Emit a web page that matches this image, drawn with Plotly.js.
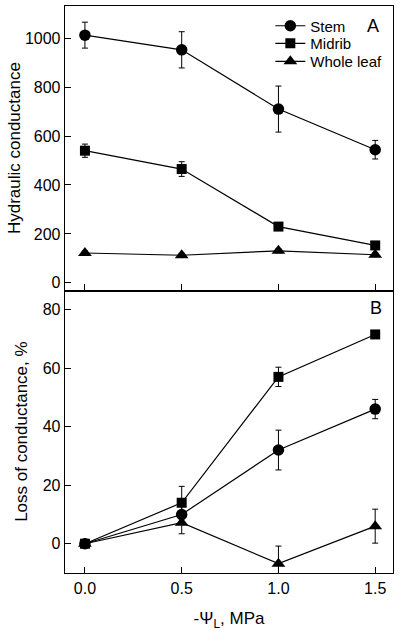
<!DOCTYPE html>
<html>
<head>
<meta charset="utf-8">
<script src="https://cdn.plot.ly/plotly-3.0.1.min.js"></script>
<style>html,body{margin:0;padding:0;background:#fff;}#chart{width:400px;height:631px;}</style>
</head>
<body>
<div id="chart"></div>
<script>
// Water potential (x)
var psi = [0, 0.5, 1.0, 1.5];
var psiLabels = ['0.0', '0.5', '1.0', '1.5'];

// Panel A: hydraulic conductance
var stemA = [1012, 952, 710, 544];
var stemAerr = [53, 74, 94, 38];
var midribA = [540, 465, 230, 153];
var midribAerr = [27, 30, 10, 10];
var leafA = [122, 113, 131, 115];
var leafAerr = [8, 8, 8, 8];

// Panel B: loss of conductance, %
var stemB = [0, 10, 32, 46];
var stemBerr = [0, 3, 6.8, 3.3];
var midribB = [0, 14, 57, 71.5];
var midribBerr = [0, 5.6, 3.3, 1];
var leafB = [0, 7.2, -6.8, 6];
var leafBerr = [0, 3.8, 6, 5.8];

var F = 'Liberation Sans, Arial, Helvetica, sans-serif';
var K = '#000';

function tr(name, y, err, sym, xa, ya, leg) {
  var t = {
    x: psi, y: y, name: name, type: 'scatter', mode: 'lines+markers',
    xaxis: xa, yaxis: ya, showlegend: !!leg, cliponaxis: false,
    line: {color: K, width: 1.2},
    marker: {symbol: sym, size: sym === 'triangle-up' ? 12 : (sym === 'square' ? 10 : 11.5), color: K},
    error_y: {type: 'data', array: err, visible: true, color: K, thickness: 1, width: 3}
  };
  if (leg) t.legend = leg;
  return t;
}

var data = [
  tr('Stem', stemA, stemAerr, 'circle', 'x', 'y', 'legend'),
  tr('Midrib', midribA, midribAerr, 'square', 'x', 'y', 'legend2'),
  tr('Whole leaf', leafA, leafAerr, 'triangle-up', 'x', 'y', 'legend3'),
  tr('Whole leaf', leafB, leafBerr, 'triangle-up', 'x2', 'y2', null),
  tr('Stem', stemB, stemBerr, 'circle', 'x2', 'y2', null),
  tr('Midrib', midribB, midribBerr, 'square', 'x2', 'y2', null)
];

var axCommon = {
  showline: true, linecolor: K, linewidth: 1.3, mirror: true,
  ticks: 'inside', ticklen: 6, tickwidth: 1, tickcolor: K,
  showgrid: false, zeroline: false,
  tickfont: {family: F, size: 16, color: K}
};

function leg(y) {
  return {
    x: 0.626, xanchor: 'left', y: y, yanchor: 'middle',
    bgcolor: 'rgba(0,0,0,0)', borderwidth: 0,
    font: {family: F, size: 15, color: K}, itemwidth: 30
  };
}

var layout = {
  width: 400, height: 631,
  margin: {l: 65, r: 7, t: 6, b: 58},
  paper_bgcolor: '#fff', plot_bgcolor: '#fff',
  font: {family: F, color: K},
  showlegend: true,
  legend: leg(0.9647),
  legend2: leg(0.9338),
  legend3: leg(0.902),
  xaxis: Object.assign({}, axCommon, {
    domain: [0, 1], anchor: 'y', range: [-0.103, 1.592],
    tickvals: psi, showticklabels: false
  }),
  yaxis: Object.assign({}, axCommon, {
    domain: [0.4987, 1], anchor: 'x', range: [-30, 1131],
    tickvals: [0, 200, 400, 600, 800, 1000],
    title: {text: 'Hydraulic conductance', font: {family: F, size: 17, color: K}, standoff: 0}
  }),
  xaxis2: Object.assign({}, axCommon, {
    domain: [0, 1], anchor: 'y2', range: [-0.103, 1.592], mirror: false,
    tickvals: psi, ticktext: psiLabels,
    title: {text: '-Ψ<sub>L</sub>, MPa', font: {family: F, size: 17, color: K}, standoff: 22}
  }),
  yaxis2: Object.assign({}, axCommon, {
    domain: [0, 0.4987], anchor: 'x2', range: [-10, 86.6],
    tickvals: [0, 20, 40, 60, 80],
    title: {text: 'Loss of conductance, %', font: {family: F, size: 17, color: K}, standoff: 10}
  }),
  annotations: [
    {text: 'A', xref: 'paper', yref: 'paper', x: 0.94, y: 0.965, xanchor: 'center', yanchor: 'middle', showarrow: false, font: {family: F, size: 18, color: K}},
    {text: 'B', xref: 'paper', yref: 'paper', x: 0.947, y: 0.467, xanchor: 'center', yanchor: 'middle', showarrow: false, font: {family: F, size: 18, color: K}}
  ]
};

Plotly.newPlot('chart', data, layout, {displayModeBar: false, staticPlot: true});
</script>
</body>
</html>
